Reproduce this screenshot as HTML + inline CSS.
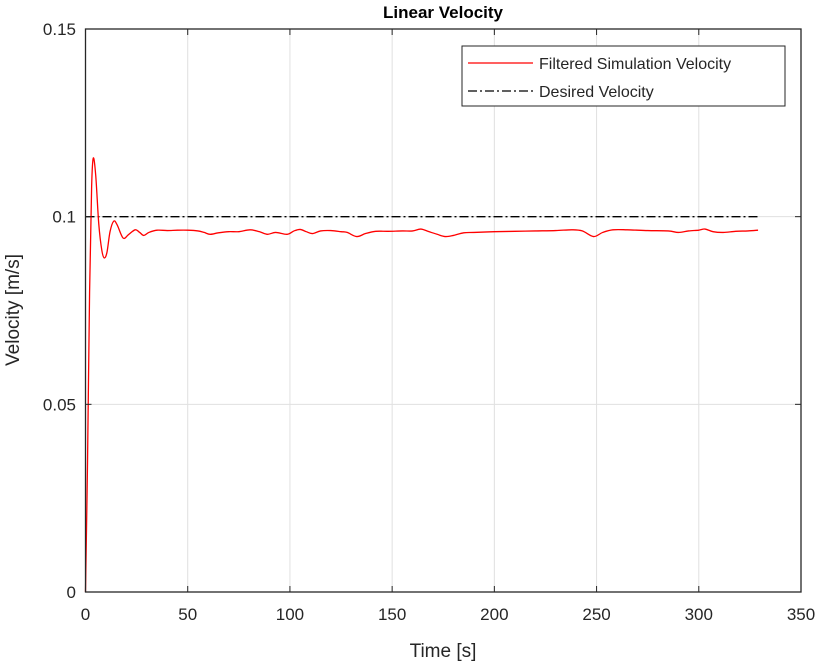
<!DOCTYPE html>
<html><head><meta charset="utf-8"><style>
body{margin:0;background:#fff;}
svg{display:block;font-family:"Liberation Sans",sans-serif;}
</style></head><body>
<svg id="chart" width="816" height="664">
<rect x="0" y="0" width="816" height="664" fill="#fff"/>
<text x="443" y="18" text-anchor="middle" font-size="17" font-weight="bold" fill="#000">Linear Velocity</text>
<g id="grid"></g>
<g id="series"></g>
<rect x="85.5" y="29" width="715.5" height="563" fill="none" stroke="#262626" stroke-width="1.3"/>
<g id="ticks"></g>
<text x="443" y="657" text-anchor="middle" font-size="19" fill="#262626">Time [s]</text>
<text transform="translate(19,310) rotate(-90)" text-anchor="middle" font-size="19" fill="#262626">Velocity [m/s]</text>
<g>
<rect x="462" y="46" width="323" height="60" fill="#fff" stroke="#262626" stroke-width="1"/>
<line x1="468" y1="63" x2="533" y2="63" stroke="#ff0000" stroke-width="1.3"/>
<text x="539" y="69" font-size="16" fill="#262626">Filtered Simulation Velocity</text>
<line x1="468" y1="91" x2="533" y2="91" stroke="#000" stroke-width="1.3" stroke-dasharray="9,3,2,3"/>
<text x="539" y="97" font-size="16" fill="#262626">Desired Velocity</text>
</g>
</svg>
<script>
const xTicks=[0,50,100,150,200,250,300,350];
const yTicks=[0,0.05,0.1,0.15];
const yTickLabels=["0","0.05","0.1","0.15"];
const desired=[0.1,0.1];
const desiredT=[0,330];
const timeS=[0,1,2,3,3.8,5,6.5,8,9.2,10.5,12,13.8,15.5,18.4,21,24.3,26.5,28.5,31,35,40,45,50,55,58,61,65,70,75,80.5,85,89,93,98.6,102,105,108,111,115,120,125,128,132.7,137,142,148,155,160,164,168,172,176,180,185,190,200,210,220,230,238,243,248.5,253,258,265,275,285,290,295,300,303,307,312,318,324,329];
const velocity=[0,0.035,0.08,0.108,0.1156,0.111,0.098,0.091,0.089,0.0905,0.096,0.0988,0.0978,0.0943,0.0952,0.0965,0.0958,0.0950,0.0958,0.0964,0.0963,0.0964,0.0964,0.0962,0.0958,0.0953,0.0957,0.0960,0.0960,0.0965,0.0960,0.0953,0.0958,0.0953,0.0962,0.0966,0.0960,0.0955,0.0962,0.0963,0.0960,0.0958,0.0947,0.0955,0.0961,0.0961,0.0962,0.0962,0.0967,0.0960,0.0953,0.0947,0.0950,0.0957,0.0958,0.0960,0.0961,0.0962,0.0963,0.0965,0.0962,0.0947,0.0958,0.0965,0.0965,0.0963,0.0962,0.0958,0.0962,0.0964,0.0967,0.0960,0.0958,0.0961,0.0962,0.0964];
const X0=85.5,X1=801,Y0=592,Y1=29;
const sx=t=>X0+(t-0)/(350-0)*(X1-X0);
const sy=v=>Y0-(v-0)/(0.15-0)*(Y0-Y1);
const NS="http://www.w3.org/2000/svg";
const grid=document.getElementById('grid'),ticks=document.getElementById('ticks'),series=document.getElementById('series');
function mk(tag,attrs,parent){const e=document.createElementNS(NS,tag);for(const k in attrs)e.setAttribute(k,attrs[k]);parent.appendChild(e);return e;}
xTicks.forEach(t=>{
  const x=sx(t);
  if(t>0&&t<350){const g=mk('line',{x1:x,y1:Y1,x2:x,y2:Y0,stroke:'#e0e0e0','stroke-width':1},grid);
  
  }
  const tk=mk('line',{x1:x,y1:Y0,x2:x,y2:Y0-6,stroke:'#262626','stroke-width':1},ticks);
  
  
  const tk2=mk('line',{x1:x,y1:Y1,x2:x,y2:Y1+6,stroke:'#262626','stroke-width':1},ticks);
  
  
  const lb=mk('text',{x:x,y:620,'text-anchor':'middle','font-size':17,fill:'#262626'},ticks);
  lb.textContent=String(t);
  
  
});
yTicks.forEach((v,i)=>{
  const y=sy(v);
  if(i>0&&i<yTicks.length-1){const g=mk('line',{x1:X0,y1:y,x2:X1,y2:y,stroke:'#e0e0e0','stroke-width':1},grid);
  
  }
  const tk=mk('line',{x1:X0,y1:y,x2:X0+6,y2:y,stroke:'#262626','stroke-width':1},ticks);
  
  
  const tk2=mk('line',{x1:X1,y1:y,x2:X1-6,y2:y,stroke:'#262626','stroke-width':1},ticks);
  
  
  const lb=mk('text',{x:76,y:y+6,'text-anchor':'end','font-size':17,fill:'#262626'},ticks);
  lb.textContent=yTickLabels[i];
  
  
});
const dl=mk('line',{x1:sx(desiredT[0]),y1:sy(desired[0]),x2:sx(desiredT[1]),y2:sy(desired[1]),stroke:'#000','stroke-width':1.3,'stroke-dasharray':'9,3,2,3'},series);


const pts=timeS.map((t,i)=>[sx(t),sy(velocity[i])]);
let d='M'+pts[0][0]+','+pts[0][1];
for(let i=0;i<pts.length-1;i++){
  const p0=pts[Math.max(0,i-1)],p1=pts[i],p2=pts[i+1],p3=pts[Math.min(pts.length-1,i+2)];
  const c1=[p1[0]+(p2[0]-p0[0])/6,p1[1]+(p2[1]-p0[1])/6],c2=[p2[0]-(p3[0]-p1[0])/6,p2[1]-(p3[1]-p1[1])/6];
  d+=` C${c1[0]},${c1[1]} ${c2[0]},${c2[1]} ${p2[0]},${p2[1]}`;
}
const fl=mk('path',{d:d,fill:'none',stroke:'#ff0000','stroke-width':1.3},series);


</script>
</body></html>
